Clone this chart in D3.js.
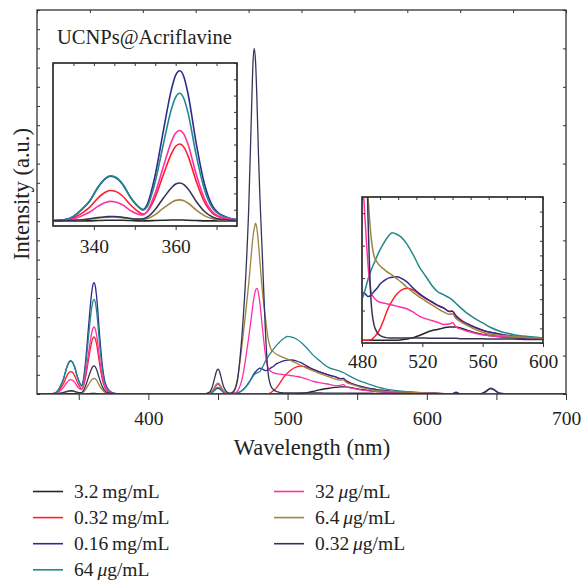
<!DOCTYPE html>
<html>
<head>
<meta charset="utf-8">
<script src="https://cdn.jsdelivr.net/npm/d3@7"></script>
<style>
  body { margin: 0; background: #fff; }
  svg { font-family: "Liberation Serif", serif; }
  .frame { fill: none; stroke: #333; stroke-width: 1.3; }
  .axis path { display: none; }
  .axis line { stroke: #333; stroke-width: 1; }
  .axis text { font-family: "Liberation Serif", serif; font-size: 19.5px; fill: #222; }
  .spec { fill: none; stroke-linejoin: round; }
</style>
</head>
<body>
<svg width="581" height="582"></svg>
<script>
// wavelength grid (nm), denser around the peaks
var wavelength = [
  320,326,330,333,335,337,339,341,343,344,
  345,347,349,351,352,353,355,357,359,360,
  361,362,363,365,367,369,372,376,382,400,
  420,440,444,446,448,449,450,451,452,454,
  456,458,460,462,464,466,468,470,472,474,
  475,476,477,478,479,480,482,484,486,488,
  490,492,494,496,498,500,503,506,510,514,
  518,522,526,530,534,538,540,542,546,550,
  555,560,565,570,580,590,600,610,618,621,
  624,630,638,642,645,646,648,652,660,680,
  700];

// intensities (a.u.), one value per wavelength
var int3_2mg = [
  0,0,0,0,0,0,0,0.01,0.02,0.02,
  0.02,0.02,0.01,0,0,0,0.01,0.02,0.03,0.03,
  0.03,0.03,0.02,0.01,0,0,0,0,0,0,
  0,0,0,0,0,0,0,0,0,0,
  0,0,0,0,0,0,0,0,0,0,
  0,0,0,0,0,0,0,0,0,0,
  0,0,0,0,0,0,0,0.01,0.03,0.07,
  0.13,0.2,0.26,0.3,0.34,0.37,0.37,0.37,0.33,0.27,
  0.21,0.16,0.13,0.1,0.07,0.05,0.04,0.02,0.01,0.01,
  0,0,0,0,0,0,0,0,0,0,
  0];
var int0_32mg = [
  0,0,0.01,0.04,0.12,0.29,0.53,0.88,1.12,1.17,
  1.15,0.96,0.61,0.34,0.26,0.34,0.91,1.79,2.61,2.88,
  2.97,2.85,2.52,1.54,0.74,0.3,0.09,0.01,0,0,
  0,0,0,0,0,0,0,0,0,0,
  0,0,0,0,0,0,0,0,0,0,
  0,0,0,0,0,0,0,0,0.01,0.08,
  0.18,0.32,0.52,0.75,0.95,1.1,1.28,1.4,1.45,1.4,
  1.28,1.17,1.07,0.97,0.9,0.8,0.81,0.7,0.55,0.45,
  0.35,0.27,0.22,0.18,0.11,0.08,0.06,0.03,0.01,0.01,
  0,0,0,0,0,0,0,0,0,0,
  0];
var int0_16mg = [
  0,0,0.01,0.05,0.17,0.43,0.77,1.29,1.65,1.72,
  1.69,1.41,0.89,0.53,0.44,0.62,1.77,3.49,5.1,5.63,
  5.8,5.57,4.93,3.02,1.45,0.58,0.17,0.03,0,0,
  0,0,0.02,0.09,0.22,0.28,0.3,0.28,0.22,0.09,
  0.03,0.01,0.01,0.03,0.06,0.12,0.22,0.38,0.58,0.82,
  0.95,1.07,1.16,1.24,1.3,1.34,1.3,1.22,1.26,1.36,
  1.45,1.57,1.64,1.7,1.74,1.76,1.77,1.73,1.62,1.45,
  1.3,1.18,1.08,0.98,0.9,0.8,0.81,0.68,0.54,0.45,
  0.36,0.28,0.22,0.18,0.11,0.08,0.06,0.02,0.01,0.09,
  0.01,0,0,0.1,0.25,0.28,0.22,0.04,0,0,
  0];
var int64ug = [
  0,0,0.01,0.05,0.17,0.44,0.78,1.31,1.67,1.74,
  1.71,1.43,0.9,0.52,0.41,0.54,1.51,2.97,4.34,4.78,
  4.93,4.73,4.19,2.56,1.23,0.49,0.15,0.02,0,0,
  0,0,0.03,0.1,0.25,0.32,0.35,0.32,0.25,0.1,
  0.04,0.01,0.01,0.03,0.06,0.12,0.22,0.36,0.55,0.78,
  0.9,1.0,1.06,1.1,1.14,1.16,1.4,1.7,1.95,2.15,
  2.35,2.53,2.68,2.82,2.93,3.0,2.96,2.88,2.67,2.38,
  2.05,1.8,1.55,1.36,1.27,1.18,1.12,1.04,0.88,0.74,
  0.6,0.48,0.36,0.27,0.16,0.1,0.06,0.03,0.01,0.01,
  0,0,0,0,0,0,0,0,0,0,
  0];
var int32ug = [
  0,0,0,0.02,0.08,0.19,0.34,0.56,0.72,0.75,
  0.74,0.62,0.39,0.25,0.23,0.36,1.07,2.1,3.07,3.39,
  3.49,3.35,2.97,1.81,0.87,0.35,0.1,0.02,0,0,
  0,0,0.04,0.15,0.36,0.46,0.5,0.46,0.36,0.15,
  0.05,0.02,0.02,0.05,0.15,0.45,1.0,1.9,2.9,4.0,
  4.6,5.1,5.4,5.5,5.3,4.8,3.4,2.1,1.35,1.18,
  1.1,1.06,1.04,1.02,1.0,0.98,0.95,0.92,0.87,0.78,
  0.67,0.6,0.55,0.5,0.44,0.45,0.49,0.38,0.3,0.25,
  0.19,0.15,0.12,0.1,0.08,0.06,0.05,0.02,0.01,0.01,
  0,0,0,0,0,0,0,0,0,0,
  0];
var int6_4ug = [
  0,0,0,0,0.02,0.04,0.07,0.11,0.14,0.15,
  0.15,0.12,0.08,0.06,0.05,0.08,0.24,0.49,0.71,0.79,
  0.81,0.78,0.69,0.42,0.2,0.08,0.02,0,0,0,
  0,0,0.05,0.17,0.41,0.52,0.57,0.52,0.41,0.17,
  0.06,0.03,0.08,0.25,0.8,1.8,3.0,4.3,5.7,7.3,
  8.1,8.6,8.9,8.6,7.9,7.0,5.3,4.0,2.9,2.35,
  2.18,2.07,2.0,1.93,1.87,1.82,1.72,1.62,1.47,1.33,
  1.21,1.1,0.99,0.89,0.79,0.72,0.74,0.62,0.5,0.41,
  0.3,0.22,0.17,0.14,0.11,0.07,0.05,0.02,0.01,0.01,
  0,0,0,0,0,0,0,0,0,0,
  0];
var int0_32ug = [
  0,0,0,0.01,0.02,0.04,0.08,0.13,0.16,0.17,
  0.17,0.14,0.09,0.07,0.08,0.14,0.44,0.88,1.28,1.42,
  1.46,1.4,1.24,0.76,0.37,0.15,0.04,0.01,0,0,
  0,0,0.1,0.39,0.94,1.2,1.3,1.2,0.94,0.39,
  0.13,0.05,0.06,0.2,0.7,2.0,3.8,6.2,9.5,14.5,
  17.0,18.0,17.3,15.3,12.7,10.5,7.0,3.4,1.1,0.42,
  0.22,0.13,0.09,0.07,0.06,0.06,0.06,0.06,0.06,0.06,
  0.06,0.06,0.05,0.05,0.05,0.05,0.05,0.05,0.04,0.04,
  0.04,0.04,0.03,0.03,0.03,0.02,0.02,0.01,0.01,0.05,
  0.01,0,0,0.12,0.28,0.3,0.25,0.05,0,0,
  0];

var seriesNames = ["3.2 mg/mL", "0.32 mg/mL", "0.16 mg/mL", "64 \u03bcg/mL",
                   "32 \u03bcg/mL", "6.4 \u03bcg/mL", "0.32 \u03bcg/mL"];
var seriesColors = ["#262626", "#ff1f2d", "#2c2c8f", "#21888c",
                    "#ff2fa6", "#9c8442", "#34345a"];
var seriesValues = [int3_2mg, int0_32mg, int0_16mg, int64ug, int32ug, int6_4ug, int0_32ug];

function render() {
    var svg = d3.select("svg");

    var series = seriesNames.map(function(name, i) {
        return {
            name: name,
            color: seriesColors[i],
            points: wavelength.map(function(w, j) { return {w: w, v: seriesValues[i][j]}; })
        };
    });

    function drawLines(g, xs, ys, width, clip) {
        var line = d3.line()
            .x(function(d) { return xs(d.w); })
            .y(function(d) { return ys(d.v); })
            .curve(d3.curveMonotoneX);
        var lg = g.append("g");
        if (clip) lg.attr("clip-path", "url(#" + clip + ")");
        lg.selectAll("path")
            .data(series)
            .enter().append("path")
            .attr("class", "spec")
            .attr("stroke", function(d) { return d.color; })
            .attr("stroke-width", width)
            .attr("d", function(d) { return line(d.points); });
    }

    function addClip(id, xs, ys) {
        svg.append("clipPath").attr("id", id)
            .append("rect")
            .attr("x", xs.range()[0]).attr("y", ys.range()[1])
            .attr("width", xs.range()[1] - xs.range()[0])
            .attr("height", ys.range()[0] - ys.range()[1]);
    }

    function frame(xs, ys, fill) {
        svg.append("rect")
            .attr("class", "frame")
            .attr("x", xs.range()[0]).attr("y", ys.range()[1])
            .attr("width", xs.range()[1] - xs.range()[0])
            .attr("height", ys.range()[0] - ys.range()[1])
            .style("fill", fill || "none");
    }

    function blankTicks(axis, transform) {
        svg.append("g")
            .attr("class", "axis")
            .attr("transform", transform)
            .call(axis.tickFormat(""));
    }

    // ---- main panel
    var x = d3.scaleLinear().domain([320, 700]).range([37, 566]),
        y = d3.scaleLinear().domain([0, 20]).range([394, 10]);

    addClip("clipMain", x, y);
    drawLines(svg, x, y, 1.3, "clipMain");

    var xAxis = svg.append("g")
        .attr("class", "axis")
        .attr("transform", "translate(0,394)")
        .call(d3.axisBottom(x)
            .tickValues(d3.range(350, 701, 50))
            .tickSize(6)
            .tickFormat(function(d) { return d % 100 ? "" : d; }));
    xAxis.selectAll("text").attr("y", 31).attr("dy", 0);

    blankTicks(d3.axisLeft(y).ticks(20).tickSize(-3), "translate(37,0)");
    blankTicks(d3.axisRight(y).tickValues(d3.range(0, 21, 2)).tickSize(-3), "translate(566,0)");
    var topScale = d3.scaleLinear().domain([0, 10]).range([37, 566]);
    blankTicks(d3.axisTop(topScale).ticks(10).tickSize(-3), "translate(0,10)");
    frame(x, y);

    // ---- inset 1: 330-375 nm
    var x1 = d3.scaleLinear().domain([330, 375]).range([53, 237]),
        y1 = d3.scaleLinear().domain([-0.2, 6.1]).range([226, 63]);
    frame(x1, y1, "#fff");
    addClip("clipIn1", x1, y1);
    drawLines(svg, x1, y1, 1.6, "clipIn1");
    var in1Axis = svg.append("g")
        .attr("class", "axis")
        .attr("transform", "translate(0,226)")
        .call(d3.axisBottom(x1)
            .tickValues([340, 350, 360, 370])
            .tickSize(4)
            .tickFormat(function(d) { return d % 20 ? "" : d; }));
    in1Axis.selectAll("text").attr("y", 27).attr("dy", 0);
    var in1Right = d3.scaleLinear().domain([0, 10]).range([226, 63]);
    blankTicks(d3.axisRight(in1Right).ticks(10).tickSize(-3), "translate(237,0)");
    var in1Top = d3.scaleLinear().domain([0, 9]).range([53, 237]);
    blankTicks(d3.axisTop(in1Top).ticks(9).tickSize(-3), "translate(0,63)");
    frame(x1, y1);

    // ---- inset 2: 480-600 nm
    var x2 = d3.scaleLinear().domain([480, 600]).range([362, 543]),
        y2 = d3.scaleLinear().domain([-0.08, 4.0]).range([343, 197]);
    frame(x2, y2, "#fff");
    addClip("clipIn2", x2, y2);
    drawLines(svg, x2, y2, 1.5, "clipIn2");
    var in2Axis = svg.append("g")
        .attr("class", "axis")
        .attr("transform", "translate(0,343)")
        .call(d3.axisBottom(x2)
            .tickValues([480, 520, 560, 600])
            .tickSize(4));
    in2Axis.selectAll("text").attr("y", 25).attr("dy", 0);
    var in2Right = d3.scaleLinear().domain([0, 10]).range([343, 197]);
    blankTicks(d3.axisRight(in2Right).ticks(10).tickSize(-3), "translate(543,0)");
    var in2Left = d3.scaleLinear().domain([0, 4.5]).range([343, 197]);
    blankTicks(d3.axisLeft(in2Left).tickValues([1, 2, 3, 4]).tickSize(-3), "translate(362,0)");
    var in2Top = d3.scaleLinear().domain([0, 10]).range([362, 543]);
    blankTicks(d3.axisTop(in2Top).ticks(10).tickSize(-3), "translate(0,197)");
    frame(x2, y2);

    // ---- texts
    svg.append("text")
        .attr("x", 57).attr("y", 44)
        .style("font-size", "20.5px").style("fill", "#222")
        .text("UCNPs@Acriflavine");

    svg.append("text")
        .attr("x", 312).attr("y", 455)
        .style("text-anchor", "middle")
        .style("font-size", "22.5px").style("fill", "#222")
        .text("Wavelength (nm)");

    svg.append("text")
        .attr("transform", "translate(29,194) rotate(-90)")
        .style("text-anchor", "middle")
        .style("font-size", "22.5px").style("fill", "#222")
        .text("Intensity (a.u.)");

    // ---- legend, two columns
    var legend = svg.selectAll(".legend")
        .data(series)
        .enter().append("g")
        .attr("class", "legend")
        .attr("transform", function(d, i) {
            var col = i < 4 ? 0 : 1, row = i < 4 ? i : i - 4;
            return "translate(" + (33 + col * 241) + "," + (491.5 + row * 26.1) + ")";
        });

    legend.append("line")
        .attr("x1", 0).attr("x2", 30)
        .attr("stroke", function(d) { return d.color; })
        .attr("stroke-width", 1.6);

    var lt = legend.append("text")
        .attr("x", 41).attr("y", 6.5)
        .style("font-size", "19.5px").style("fill", "#222");
    lt.each(function(d) {
        var t = d3.select(this),
            parts = d.name.split(" "),
            unit = parts[1];
        t.append("tspan").text(parts[0] + "\u2009");
        if (unit.charAt(0) === "\u03bc") {
            t.append("tspan").style("font-style", "italic").text("\u03bc");
            t.append("tspan").text(unit.slice(1));
        } else {
            t.append("tspan").text(unit);
        }
    });
}

render();
</script>
</body>
</html>
